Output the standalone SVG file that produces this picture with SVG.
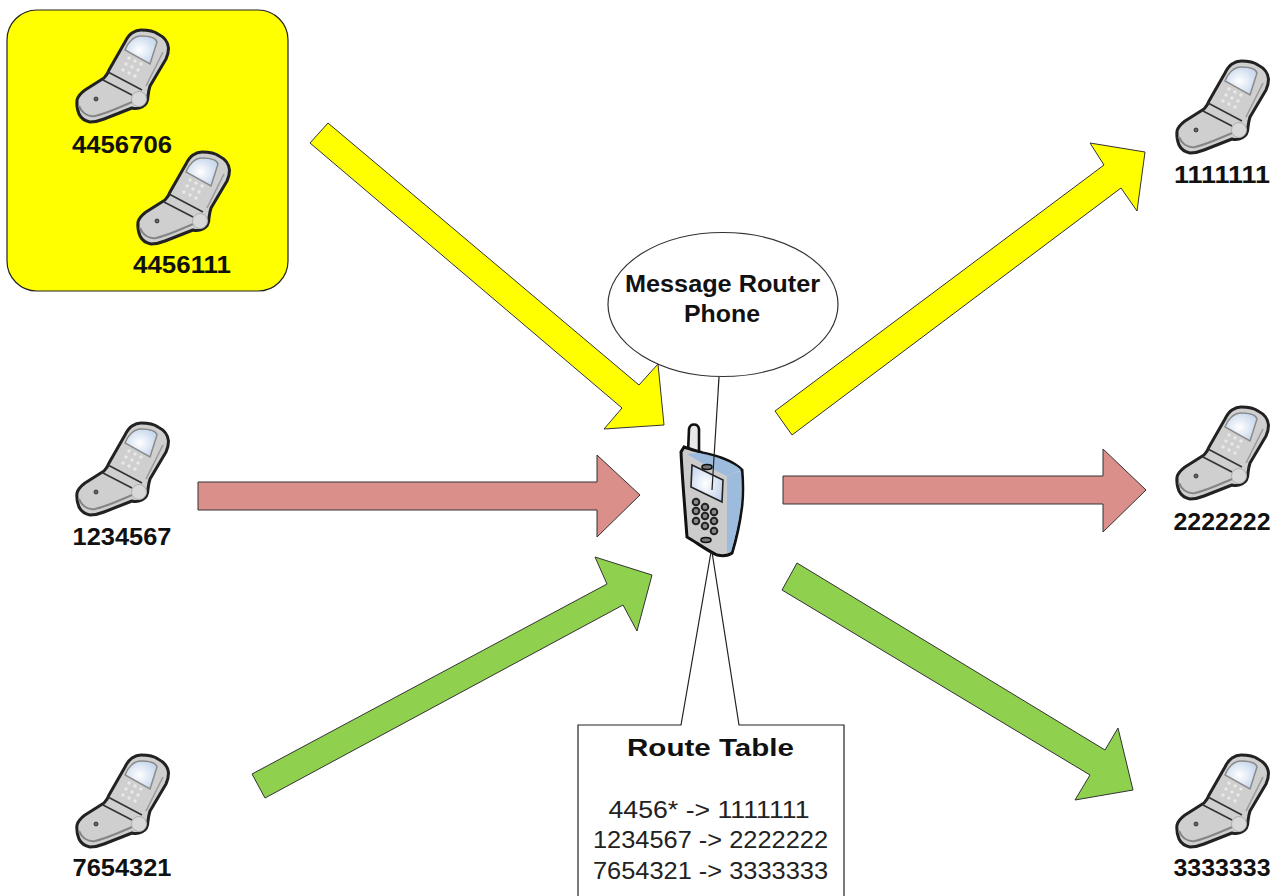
<svg xmlns="http://www.w3.org/2000/svg" width="1282" height="896" viewBox="0 0 1282 896">
<style>
.lbl{font:bold 24.5px "Liberation Sans",Arial,sans-serif;fill:#111;text-anchor:middle}
.ar{stroke:#333;stroke-width:1}
.y{fill:#ffff00}.r{fill:#da8f8b}.g{fill:#8fd14f}
.ln{fill:none;stroke:#222;stroke-width:1.2}
.key{fill:#8a8a8a;stroke:#222;stroke-width:2}
.t{font:24.5px "Liberation Sans",Arial,sans-serif;fill:#222;text-anchor:middle}
.b{font:bold 23.5px "Liberation Sans",Arial,sans-serif;fill:#111;text-anchor:middle}
</style>
<defs>
<radialGradient id="sc" cx="0.45" cy="0.5" r="0.7"><stop offset="0" stop-color="#ffffff"/><stop offset="1" stop-color="#b9cde8"/></radialGradient>
<g id="flip">
<path d="M141 30C148 30 154 31 158 34C164 37 168 42 168.500 48C168.500 52 168 55 166 59L150 86C149 89 148.500 92 148 96C148 101 146 105 142 107C138 109 135 109 132 108L104 119C99 121 94 122 90 122C85 121 81 118 79 114C77 109 76.500 104 77 100C78 96 81 93 85 90L104 78C106 76 108 73 109 70L125 42C127 38 129 35 132 33C135 31 138 30 141 30Z" fill="#cfcfcf" stroke="#222" stroke-width="3" stroke-linejoin="round"/>
<path d="M79 106C82 113 88 117 95 116C108 113 120 107 132 102" fill="none" stroke="#858585" stroke-width="2"/>
<path d="M163 52L146 86" fill="none" stroke="#9a9a9a" stroke-width="1.500"/>
<path d="M125 50C128 42 134 36 141 36C149 36 156 38 157 42L150 64Z" fill="url(#sc)" stroke="#8a8a8a" stroke-width="1.500"/>
<path d="M108 72L142 90M103 80L132 95" fill="none" stroke="#333" stroke-width="1.600"/>
<g fill="#e9e9e9"><circle cx="129" cy="58" r="1.700"/><circle cx="135" cy="61" r="1.700"/><circle cx="141" cy="64" r="1.700"/><circle cx="126" cy="64" r="1.700"/><circle cx="132" cy="67" r="1.700"/><circle cx="138" cy="70" r="1.700"/><circle cx="123" cy="70" r="1.700"/><circle cx="129" cy="73" r="1.700"/><circle cx="135" cy="76" r="1.700"/></g>
<circle cx="139" cy="99" r="7.500" fill="#d8d8d8" stroke="#b0b0b0" stroke-width="1"/>
<circle cx="96" cy="99" r="2" fill="#666" stroke="#222" stroke-width="0.800"/>
</g>
</defs>

<g id="group-yellow"><rect x="7" y="10" width="281" height="281" rx="30" ry="30" fill="#ffff00" stroke="#222" stroke-width="1.200"/></g>

<g id="connectors">
<polygon class="ar y" points="328,123 639,385 658,364 664,425 604,429 622,408 310,143"/>
<polygon class="ar r" points="198,482 597,482 597,455 640,495 597,537 597,510 198,510"/>
<polygon class="ar g" points="252,774 607,584 595,557 652,575 637,631 623,605 265,798"/>
<polygon class="ar y" points="775,411 1104,165 1090,143 1145,152 1137,211 1121,188 792,435"/>
<polygon class="ar r" points="783,476 1103,476 1103,449 1146,490 1103,532 1103,504 783,504"/>
<polygon class="ar g" points="797,563 1105,750 1118,728 1133,790 1075,800 1090,775 782,590"/>
</g>

<g id="phone-4456706"><use href="#flip"/><text class="lbl" x="122" y="153" textLength="100" lengthAdjust="spacingAndGlyphs">4456706</text></g>
<g id="phone-4456111"><use href="#flip" x="61" y="122"/><text class="lbl" x="182" y="273" textLength="98" lengthAdjust="spacingAndGlyphs">4456111</text></g>
<g id="phone-1234567"><use href="#flip" y="393"/><text class="lbl" x="122" y="545" textLength="99" lengthAdjust="spacingAndGlyphs">1234567</text></g>
<g id="phone-7654321"><use href="#flip" y="725"/><text class="lbl" x="122" y="876" textLength="99" lengthAdjust="spacingAndGlyphs">7654321</text></g>
<g id="phone-1111111"><use href="#flip" x="1100" y="31"/><text class="lbl" x="1222" y="183" textLength="96" lengthAdjust="spacingAndGlyphs">1111111</text></g>
<g id="phone-2222222"><use href="#flip" x="1100" y="377"/><text class="lbl" x="1222" y="530" textLength="97" lengthAdjust="spacingAndGlyphs">2222222</text></g>
<g id="phone-3333333"><use href="#flip" x="1100" y="725"/><text class="lbl" x="1222" y="876" textLength="97" lengthAdjust="spacingAndGlyphs">3333333</text></g>

<g id="router-phone">
<path d="M688 453L689 429C690 423 698 423 699 429L699 455Z" fill="#e8e8e8" stroke="#111" stroke-width="2.600"/>
<path d="M684 447C690 449 700 452 703 453C718 456 734 462 742 470C743 482 743 495 742 505C740 522 736 540 732 553C728 556 722 556 717 555C706 550 696 542 687 537C685 510 682 475 681 452Z" fill="#cbcbcb" stroke="#111" stroke-width="3"/>
<path d="M699 453C715 456 733 462 741 470L727 476C714 470 700 462 687 454Z" fill="#9dbbdd"/>
<path d="M727 476L741 471C742 482 742 495 741 505C739 522 735 538 731 552L727 553Z" fill="#9dbbdd"/>
<path d="M692 465L723 480L722 502L691 487Z" fill="url(#sc)" stroke="#222" stroke-width="1.600"/>
<ellipse cx="707" cy="467" rx="5" ry="2.500" fill="#777" stroke="#111" stroke-width="1.600"/>
<ellipse cx="706" cy="540" rx="5" ry="2.500" fill="#777" stroke="#111" stroke-width="1.600"/>
<g class="key">
<circle cx="696" cy="502" r="3.300"/><circle cx="705" cy="507" r="3.300"/><circle cx="714" cy="512" r="3.300"/>
<circle cx="696" cy="511" r="3.300"/><circle cx="705" cy="516" r="3.300"/><circle cx="714" cy="521" r="3.300"/>
<circle cx="696" cy="521" r="3.300"/><circle cx="705" cy="526" r="3.300"/><circle cx="714" cy="531" r="3.300"/>
</g>
</g>

<g id="router-callout">
<ellipse cx="723" cy="304.500" rx="115" ry="72" fill="#fff" stroke="#333" stroke-width="1.200"/>
<path class="ln" d="M719 377L712 490"/>
<text class="b" x="722.500" y="292" textLength="195" lengthAdjust="spacingAndGlyphs">Message Router</text>
<text class="b" x="722" y="322" textLength="76" lengthAdjust="spacingAndGlyphs">Phone</text>
</g>

<g id="route-table">
<path class="ln" d="M578 896V725H681L711 552M712 552L739 725H844V896" style="fill:none"/>
<text class="b" x="710.500" y="756" textLength="167" lengthAdjust="spacingAndGlyphs">Route Table</text>
<text class="t" x="709" y="818" textLength="201" lengthAdjust="spacingAndGlyphs">4456* -&gt; 1111111</text>
<text class="t" x="710.500" y="848" textLength="235" lengthAdjust="spacingAndGlyphs">1234567 -&gt; 2222222</text>
<text class="t" x="710.500" y="879" textLength="235" lengthAdjust="spacingAndGlyphs">7654321 -&gt; 3333333</text>
</g>
</svg>
